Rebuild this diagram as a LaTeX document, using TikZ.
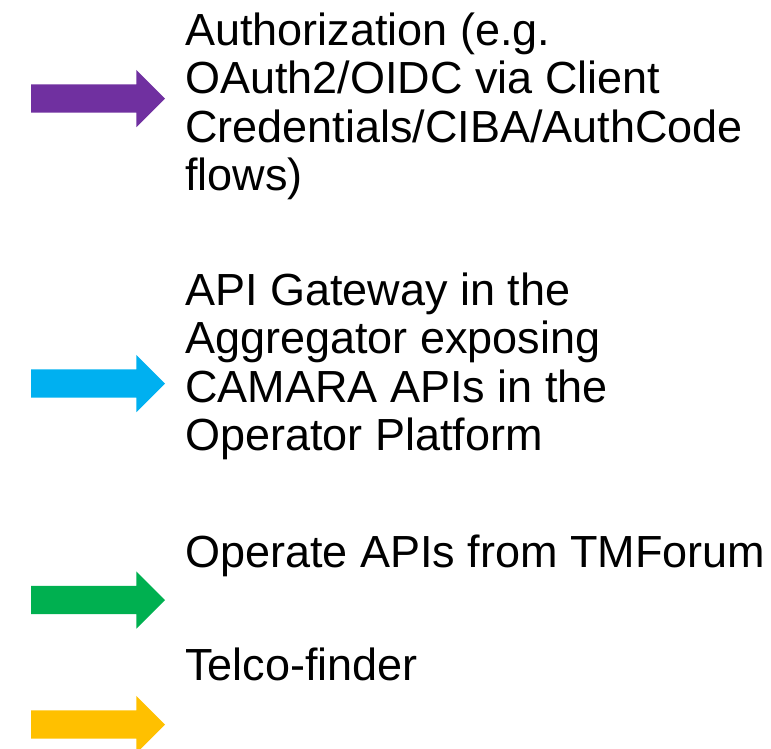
\documentclass[tikz,border=0pt]{standalone}
\usepackage{fontspec}
\setmainfont{Liberation Sans}
\usetikzlibrary{shapes.arrows}
\definecolor{authpurple}{HTML}{7030A0}
\definecolor{gwcyan}{HTML}{00B0F0}
\definecolor{opgreen}{HTML}{00B050}
\definecolor{tfyellow}{HTML}{FFC000}

\begin{document}
\begin{tikzpicture}[x=1pt,y=-1pt]
    \tikzset{legarrow/.style = {single arrow, fill=#1, draw=none,
        minimum height=134pt, inner xsep=0pt, inner ysep=14pt,
        single arrow head extend=14.5pt, single arrow tip angle=90,
        outer sep=0pt, anchor=tail}}
    \tikzset{legtext/.style = {align=left, anchor=base west, inner sep=0pt,
        font=\fontsize{45}{48.5}\selectfont}}
    \useasboundingbox (0,0) rectangle (771,748);
    % arrows
    \node[legarrow=authpurple] (auth) at (31,98.5) {};
    \node[legarrow=gwcyan] (gw) at (31,383.5) {};
    \node[legarrow=opgreen] (op) at (31,600) {};
    \node[legarrow=tfyellow] (tf) at (31,724.5) {};
    
    % labels (base = last line)
    \node[legtext] (authtext) at (185,190.5) {Authorization (e.g.\\OAuth2/OIDC via Client\\Credentials/CIBA/AuthCode\\flows)};
    \node[legtext] (gwtext) at (185,450.5) {API Gateway in the\\Aggregator exposing\\CAMARA APIs in the\\Operator Platform};
    \node[legtext] (optext) at (185,567) {Operate APIs from TMForum};
    \node[legtext] (tftext) at (185,680) {Telco-finder};
\end{tikzpicture}
\end{document}
